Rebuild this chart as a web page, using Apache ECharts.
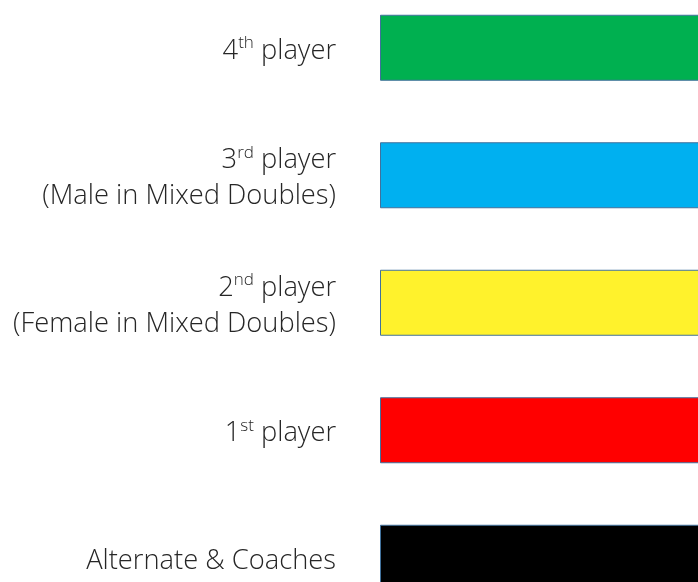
<!DOCTYPE html>
<html><head><meta charset="utf-8">
<script src="https://cdn.jsdelivr.net/npm/echarts@6/dist/echarts.min.js"></script>
<style>html,body{margin:0;padding:0;background:#fff;overflow:hidden;width:698px;height:582px;position:relative}#c{position:absolute;left:0;top:-16px;width:740px;height:660px}</style>
</head><body><div id="c"></div>
<script>
var numbers = ['4', '3', '2', '1', ''];
var suffixes = ['th', 'rd', 'nd', 'st', ''];
var mainText = [' player', ' player', ' player', ' player', 'Alternate & Coaches'];
var subText = ['', '(Male in Mixed Doubles)', '(Female in Mixed Doubles)', '', ''];
var categories = ['4th player', '3rd player', '2nd player', '1st player', 'Alternate & Coaches'];
var values = [1, 1, 1, 1, 1];
var colors = ['#00B050', '#00B0F0', '#FFF22C', '#FF0000', '#000000'];

var FONT = 'Open Sans';
var TXT = '#262626';
var chart = echarts.init(document.getElementById('c'));
chart.setOption({
  animation: false,
  grid: {left: 380, right: 0, top: 0, bottom: 22.5, containLabel: false},
  xAxis: {type: 'value', min: 0, max: 1, show: false},
  yAxis: {
    type: 'category', inverse: true, data: categories,
    axisLine: {show: false}, axisTick: {show: false},
    axisLabel: {
      margin: 44, color: TXT, padding: [6, 0, 0, 0],
      fontFamily: FONT, fontWeight: 300, fontSize: 27.3, lineHeight: 36,
      formatter: function (v, i) {
        var s = '';
        if (numbers[i]) s += '{n|' + numbers[i] + '}{sup|' + suffixes[i] + '}';
        s += '{n|' + mainText[i] + '}';
        if (subText[i]) s += '\n{n|' + subText[i] + '}';
        return s;
      },
      rich: {
        n: {fontFamily: FONT, fontWeight: 300, fontSize: 27.3, color: TXT, lineHeight: 36},
        sup: {fontFamily: FONT, fontWeight: 300, fontSize: 17, color: TXT, lineHeight: 36, verticalAlign: 'top', padding: [2, 0, 0, 0]}
      }
    }
  },
  series: [{
    type: 'bar', barWidth: 66,
    data: values.map(function (v, i) {
      return {value: v, itemStyle: {color: colors[i]}};
    }),
    itemStyle: {borderColor: '#41719C', borderWidth: 1}
  }]
});
</script></body></html>
